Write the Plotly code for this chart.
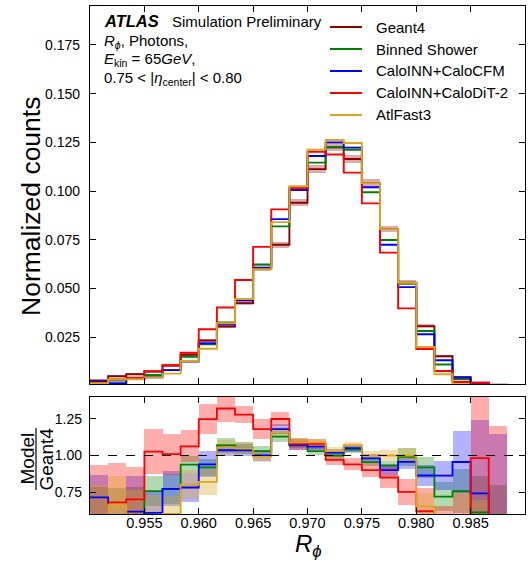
import numpy as np
import plotly.graph_objects as go

# ---------------- data ----------------
bin_edges = np.linspace(0.950, 0.990, 25)

geant4 = [0.0028, 0.0050, 0.0060, 0.0074, 0.0105, 0.0160, 0.0233, 0.0305, 0.0425, 0.0605, 0.0725, 0.0940,
          0.1113, 0.1225, 0.1165, 0.1041, 0.0805, 0.0530, 0.0307, 0.0153, 0.0045, 0.0017, 0.0006, 0.0]
geant4_err = [0.0003, 0.0004, 0.0004, 0.0005, 0.0006, 0.0007, 0.0009, 0.0010, 0.0012, 0.0014, 0.0016, 0.0018,
              0.0019, 0.0020, 0.0020, 0.0019, 0.0016, 0.0013, 0.0010, 0.0007, 0.0004, 0.0002, 0.0001, 0.0]
binned = [0.0015, 0.0028, 0.0035, 0.0056, 0.0081, 0.0150, 0.0214, 0.0326, 0.0446, 0.0623, 0.0819, 0.1015,
          0.1146, 0.1225, 0.1212, 0.0994, 0.0749, 0.0525, 0.0282, 0.0110, 0.0034, 0.00104, 0.0003, 0.0003]
cfm = [0.0020, 0.0014, 0.0037, 0.0045, 0.0081, 0.0125, 0.0219, 0.0316, 0.0440, 0.0605, 0.0856, 0.1006,
       0.1180, 0.1250, 0.1223, 0.1020, 0.0725, 0.0507, 0.0265, 0.0132, 0.0043, 0.00126, 0.0003, 0.0003]
dit = [0.0015, 0.0034, 0.0042, 0.0076, 0.0106, 0.0170, 0.0291, 0.0403, 0.0544, 0.0714, 0.0906, 0.1015,
       0.1202, 0.1188, 0.1095, 0.0937, 0.0684, 0.0398, 0.0190, 0.0077, 0.0020, 0.00167, 0.0003, 0.0003]
af3 = [0.0014, 0.0033, 0.0034, 0.0043, 0.0063, 0.0128, 0.0191, 0.0322, 0.0446, 0.0599, 0.0841, 0.1025,
       0.1213, 0.1262, 0.1247, 0.1041, 0.0805, 0.0530, 0.0200, 0.0060, 0.0009, 0.0005, 0.0003, 0.0003]

nan = float("nan")
# half-widths of the ratio uncertainty bands
band_binned = [0.25, 0.22, 0.20, 0.10, 0.10, 0.06, 0.06, 0.05, 0.04, 0.035, 0.035, 0.03,
               0.025, 0.025, 0.025, 0.03, 0.035, 0.06, 0.07, 0.10, 0.15, 0.25, 0.30, nan]
band_cfm = [0.15, 0.20, 0.24, 0.15, 0.12, 0.10, 0.09, 0.04, 0.04, 0.04, 0.035, 0.03,
            0.025, 0.025, 0.025, 0.03, 0.04, 0.05, 0.07, 0.10, 0.21, 0.50, 0.645, nan]
band_dit = [0.40, 0.27, 0.22, 0.155, 0.14, 0.11, 0.10, 0.09, 0.06, 0.07, 0.05, 0.04,
            0.035, 0.035, 0.04, 0.05, 0.07, 0.09, 0.16, 0.15, 0.30, 0.45, 0.70, nan]
band_af3 = [0.30, 0.20, 0.20, 0.15, 0.12, 0.10, 0.09, 0.05, 0.04, 0.035, 0.035, 0.03,
            0.025, 0.025, 0.025, 0.03, 0.035, 0.05, 0.09, 0.15, 0.30, 0.40, nan, nan]

labels = ["Geant4", "Binned Shower", "CaloINN+CaloCFM", "CaloINN+CaloDiT-2", "AtlFast3"]
colors = ["#8b0000", "#008000", "#0000ff", "#ff0000", "#daa520"]
band_rgba = ["rgba(139,0,0,0.32)", "rgba(0,128,0,0.30)", "rgba(0,0,255,0.30)",
             "rgba(255,0,0,0.32)", "rgba(218,165,32,0.35)"]

xticks = [0.955, 0.960, 0.965, 0.970, 0.975, 0.980, 0.985]
yticks_main = [0.025, 0.050, 0.075, 0.100, 0.125, 0.150, 0.175]
yticks_ratio = [0.75, 1.00, 1.25]

# ---------------- figure ----------------
edges = np.asarray(bin_edges)
centers = 0.5 * (edges[:-1] + edges[1:])
width = edges[1] - edges[0]
g4 = np.asarray(geant4, dtype=float)
FONT = "Liberation Sans, Arial, sans-serif"

fig = go.Figure()


def step_trace(vals, color, xa, ya, w=1.9):
    v = np.asarray(vals, dtype=float)
    yv = np.append(v, v[-1])
    return go.Scatter(x=edges, y=yv, mode="lines", line=dict(color=color, width=w, shape="hv"),
                      xaxis=xa, yaxis=ya, showlegend=False, hoverinfo="skip", connectgaps=False)


# main panel: Geant4 band
g4e = np.asarray(geant4_err, dtype=float)
fig.add_trace(go.Bar(x=centers, y=2 * g4e, base=g4 - g4e, width=width, marker=dict(color=band_rgba[0], line=dict(width=0)),
                     xaxis="x", yaxis="y", showlegend=False, hoverinfo="skip"))

series = [geant4, binned, cfm, dit, af3]
for vals, col in zip(series, colors):
    fig.add_trace(step_trace(vals, col, "x", "y"))

# ratio panel
bands = [None, band_binned, band_cfm, band_dit, band_af3]
ratios = []
with np.errstate(divide="ignore", invalid="ignore"):
    for vals in series[1:]:
        r = np.asarray(vals, dtype=float) / g4
        r[g4 == 0] = np.nan
        ratios.append(r)

for i in range(1, 5):
    r = ratios[i - 1]
    h = np.asarray(bands[i], dtype=float)
    fig.add_trace(go.Bar(x=centers, y=2 * h, base=r - h, width=width,
                         marker=dict(color=band_rgba[i], line=dict(width=0)),
                         xaxis="x2", yaxis="y2", showlegend=False, hoverinfo="skip"))
for i in range(1, 5):
    fig.add_trace(step_trace(ratios[i - 1], colors[i], "x2", "y2", w=1.8))

# dashed unity line
fig.add_shape(type="line", xref="x2", yref="y2", x0=0.95, x1=0.99, y0=1, y1=1,
              line=dict(color="black", width=1.2, dash="dash"), layer="above")

W, H = 532, 562
xl, xr = 90 / W, 525 / W
main_dom = [1 - 384 / H, 1 - 6 / H]
ratio_dom = [1 - 514 / H, 1 - 397 / H]

axis_common = dict(showline=True, linecolor="black", linewidth=1.3, mirror="ticks", ticks="inside",
                   ticklen=6, tickwidth=1.2, tickcolor="black", showgrid=False, zeroline=False,
                   tickfont=dict(family=FONT, size=14, color="black"))

fig.update_layout(
    width=W, height=H, margin=dict(l=0, r=0, t=0, b=0),
    paper_bgcolor="white", plot_bgcolor="white", barmode="overlay", bargap=0,
    showlegend=False,
    xaxis=dict(domain=[xl, xr], range=[0.95, 0.99], anchor="y", tickvals=xticks, showticklabels=False,
               **axis_common),
    yaxis=dict(domain=main_dom, range=[0.001, 0.195], anchor="x", tickvals=yticks_main, tickformat=".3f",
               ticklabelstandoff=6, **axis_common),
    xaxis2=dict(domain=[xl, xr], range=[0.95, 0.99], anchor="y2", matches="x", tickvals=xticks,
                tickformat=".3f", ticklabelstandoff=-5, **{k: v for k, v in axis_common.items() if k != "tickfont"},
                tickfont=dict(family=FONT, size=14.5, color="black")),
    yaxis2=dict(domain=ratio_dom, range=[0.6, 1.4], anchor="x2", tickvals=yticks_ratio, tickformat=".2f",
                ticklabelstandoff=4, **axis_common),
)


def px_x(x):
    return x / W


def px_y(y):
    return 1 - y / H


ann = []


def text(x, y, s, size, xanchor="left", angle=0):
    ann.append(dict(x=px_x(x), y=px_y(y), xref="paper", yref="paper", text=s, showarrow=False,
                    xanchor=xanchor, yanchor="middle", textangle=angle,
                    font=dict(family=FONT, size=size, color="black")))


# axis titles
text(31, 207, "Normalized counts", 26.5, xanchor="center", angle=-90)
text(308, 545, "<i>R</i><sub><i>ϕ</i></sub>", 24, xanchor="center")
text(26.5, 459, "Model", 19, xanchor="center", angle=-90)
text(45.5, 459, "Geant4", 19, xanchor="center", angle=-90)
fig.add_shape(type="line", xref="paper", yref="paper", x0=px_x(36), x1=px_x(36), y0=px_y(490), y1=px_y(428),
              line=dict(color="black", width=1.2))

# ATLAS label block
text(102, 21, "<b><i>ATLAS</i></b>", 16.5)
text(170, 21, "Simulation Preliminary", 15)
text(102, 41, "<i>R</i><sub><i>ϕ</i></sub>, Photons,", 15)
text(102, 60, "<i>E</i><sub>kin</sub> = 65<i>GeV</i>,", 15)
text(102, 79, "0.75 &lt; |<i>η</i><sub>center</sub>| &lt; 0.80", 15)

# legend
leg_y = [27, 49, 71, 93, 115]
for lab, col, yy in zip(labels, colors, leg_y):
    fig.add_shape(type="line", xref="paper", yref="paper", x0=px_x(330), x1=px_x(362), y0=px_y(yy), y1=px_y(yy),
                  line=dict(color=col, width=2))
    text(374, yy, lab, 15)

fig.update_layout(annotations=ann)
fig.write_html("out.html")
